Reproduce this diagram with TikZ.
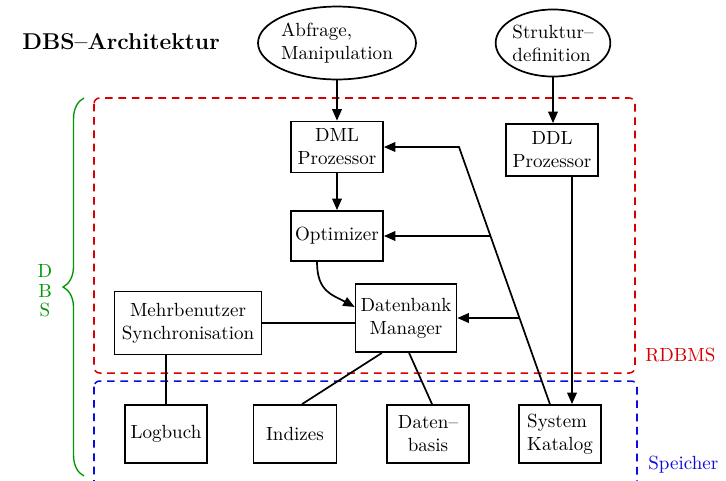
\documentclass[tikz,border=0pt]{standalone}
\usepackage{tikz}
\usetikzlibrary{positioning,shapes.geometric,arrows.meta,calc,decorations.pathreplacing}
\definecolor{dbsred}{RGB}{215, 0, 0}
\definecolor{dbsblue}{RGB}{10, 10, 225}
\definecolor{dbsgreen}{RGB}{0, 150, 0}

\begin{document}
\begin{tikzpicture}[
    x=0.525pt, y=-0.525pt,
    box/.style={rectangle, draw, line width=0.9pt, align=center, inner sep=1pt},
    ell/.style={ellipse, draw, line width=0.9pt, align=left, inner sep=0pt},
    arr/.style={line width=0.9pt, -{Triangle[length=6pt,width=5pt]}},
    con/.style={line width=0.9pt},
    area/.style={dashed, dash pattern=on 4pt off 3pt, line width=0.8pt, rounded corners=3pt}
]
\useasboundingbox (0,0) rectangle (726,480);

% Title
\node[anchor=west, inner sep=0pt, font=\large\bfseries] (title) at (22,42) {DBS--Architektur};

% Areas
\draw[area, dbsred] (94,98) rectangle (635,373);
\draw[area, dbsblue] (94,381) rectangle (637,495);
\node[anchor=west, inner sep=0pt, text=dbsred] (rdbms) at (645,355) {RDBMS};
\node[anchor=west, inner sep=0pt, text=dbsblue] (speicher) at (648,465) {Speicher};

% DBS brace
\draw[dbsgreen, line width=0.7pt, decorate, decoration={brace, amplitude=11pt}] (84,476) -- (84,98);
\node[text=dbsgreen, align=center] (dbs) at (45,291) {D\\[-1.8pt]B\\[-1.8pt]S};

% Inputs
\node[ell, minimum width=69.8pt, minimum height=38.3pt] (abf) at (337,43) {Abfrage,\\Manipulation};
\node[ell, minimum width=57.8pt, minimum height=35.2pt] (struk) at (553,43) {Struktur--\\definition};

% RDBMS components
\node[box, minimum width=48.3pt, minimum height=26.8pt] (dml) at (337,147) {DML\\Prozessor};
\node[box, minimum width=48.3pt, minimum height=26.3pt] (opt) at (337,236) {Optimizer};
\node[box, minimum width=48.3pt, minimum height=27.3pt] (ddl) at (552,150) {DDL\\Prozessor};
\node[box, minimum width=53pt, minimum height=35.7pt] (dbm) at (406,318) {Datenbank\\Manager};
\node[box, minimum width=77.2pt, minimum height=33pt] (mehr) at (188,323) {Mehrbenutzer\\Synchronisation};

% Speicher components
\node[box, minimum width=43pt, minimum height=30.5pt] (log) at (166,434) {Logbuch};
\node[box, minimum width=43.5pt, minimum height=30.5pt] (ind) at (295,434) {Indizes};
\node[box, minimum width=43pt, minimum height=30.5pt] (basis) at (428,434) {Daten--\\basis};
\node[box, minimum width=43pt, minimum height=30.5pt, align=left] (kat) at (560,434) {System\\Katalog};

% Connections
\draw[arr] (abf.south) -- (abf.south |- dml.north);
\draw[arr] (struk.south) -- (struk.south |- ddl.north);
\draw[arr] (dml.south) -- (opt.north);
\draw[arr] ([xshift=-10.5pt]opt.south) .. controls +(0,30) and +(-22,-12) .. ([yshift=5.8pt]dbm.west);
\draw[con] (mehr.east) -- (mehr.east -| dbm.west);
\draw[con] (log.north) -- (log.north |- mehr.south);
\draw[con] ([xshift=-12.6pt]dbm.south) -- ([xshift=3.7pt]ind.north);
\draw[con] ([xshift=1.6pt]dbm.south) -- ([xshift=2.1pt]basis.north);
\draw[arr] ([xshift=10.5pt]ddl.south) -- ([xshift=10.5pt]ddl.south |- kat.north);

% Katalog feedback
\coordinate (katin) at ([xshift=-5.3pt]kat.north);
\coordinate (knee) at (459,147);
\draw[arr] (katin) -- (knee) -- (knee -| dml.east);
\draw[arr] (intersection of knee--katin and opt.west--opt.east) -- (opt.east);
\draw[arr] (intersection of knee--katin and dbm.west--dbm.east) -- (dbm.east);

\end{tikzpicture}
\end{document}
